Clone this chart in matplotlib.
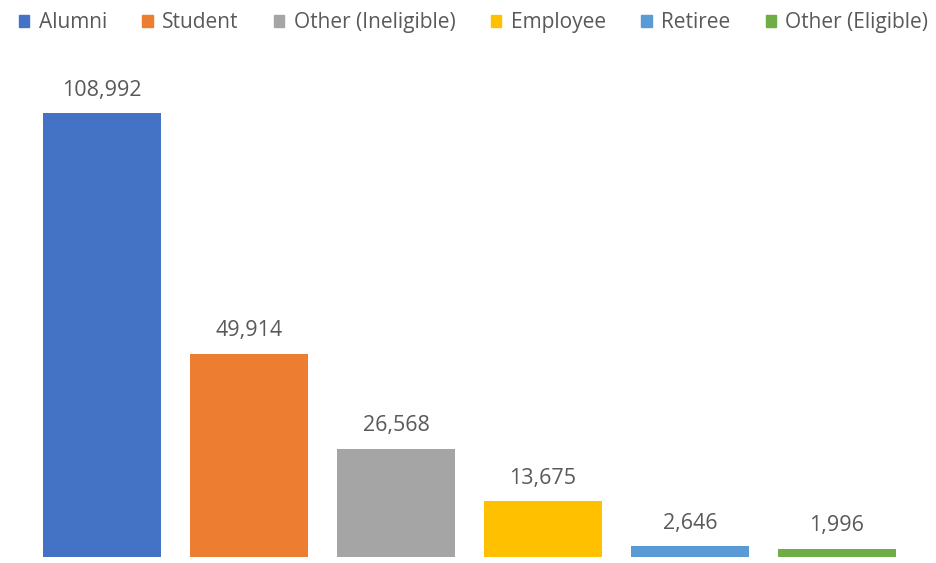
import matplotlib.pyplot as plt
from matplotlib.patches import Patch

categories = ["Alumni", "Student", "Other (Ineligible)", "Employee", "Retiree", "Other (Eligible)"]
counts = [108992, 49914, 26568, 13675, 2646, 1996]
colors = ["#4472C4", "#ED7D31", "#A5A5A5", "#FFC000", "#5B9BD5", "#70AD47"]

plt.rcParams['font.family'] = ['Open Sans', 'DejaVu Sans']
text_color = "#595959"

fig = plt.figure(figsize=(9.36, 5.63), dpi=100)
ax = fig.add_axes([0.0304, 0.0107, 0.9423, 0.868])

x = range(len(categories))
bars = ax.bar(x, counts, width=0.8, color=colors)
for b, v in zip(bars, counts):
    ax.annotate(f"{v:,}", (b.get_x() + b.get_width() / 2, v),
                xytext=(0, 9), textcoords="offset points",
                ha="center", va="bottom", fontsize=15.5, color=text_color)

ax.set_xlim(-0.5, len(categories) - 0.5)
ax.set_ylim(0, 120000)
ax.axis("off")

handles = [Patch(color=c) for c in colors]
fig.legend(handles, categories, loc="upper center", bbox_to_anchor=(0.506, 1.012),
           ncol=6, frameon=False, fontsize=15, labelcolor=text_color,
           handlelength=0.5, handleheight=0.5, handletextpad=0.45, columnspacing=1.7)

fig.savefig("out.png", dpi=100)
